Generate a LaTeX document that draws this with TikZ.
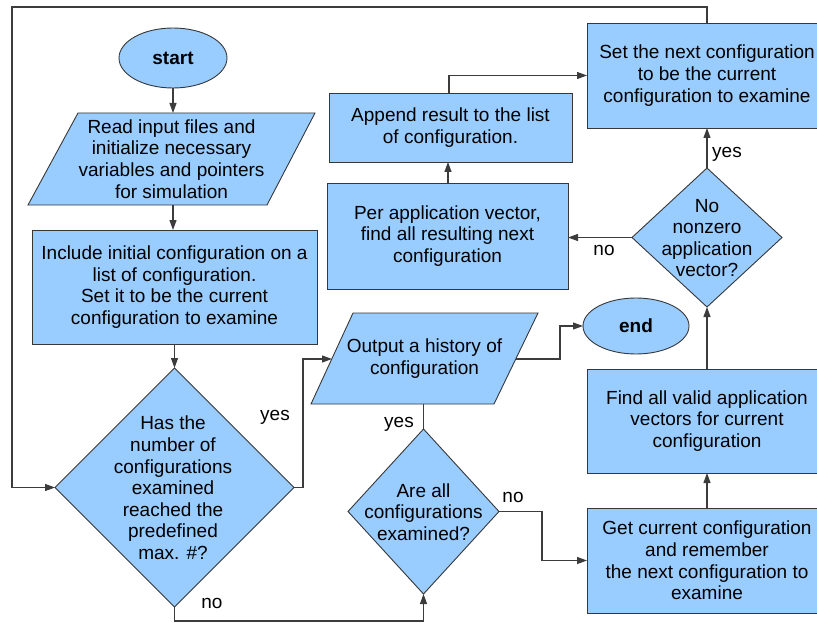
\documentclass[tikz,border=0pt]{standalone}
\usepackage{fontspec}
\setmainfont{Liberation Sans}
\usetikzlibrary{shapes.geometric,arrows.meta,calc,backgrounds}

\definecolor{boxfill}{RGB}{153,204,255}
\definecolor{boxline}{RGB}{55,55,55}
\definecolor{wire}{RGB}{60,60,60}

\tikzset{
  base/.style={font=\fontsize{19}{21.6}\selectfont, align=center, inner sep=0pt, outer sep=0pt},
  box/.style={base, rectangle, draw=boxline, fill=boxfill, line width=0.9pt},
  term/.style={base, ellipse, draw=boxline, fill=boxfill, line width=0.9pt, font=\fontsize{19}{21.6}\selectfont\bfseries},
  dec/.style={base, diamond, draw=boxline, fill=boxfill, line width=0.9pt},
  iotext/.style={base, rectangle},
  iofill/.style={draw=boxline, fill=boxfill, line width=0.9pt, line join=miter},
  txt/.style={base},
  lbl/.style={base},
  arrow/.style={draw=wire, line width=1.1pt, -{Triangle[length=10pt,width=7pt]}},
  wireline/.style={draw=wire, line width=1.1pt},
}

\begin{document}
\begin{tikzpicture}[x=1pt, y=-1pt]
\useasboundingbox (0,0) rectangle (817,623);

% left column
\node[term, minimum width=108pt, minimum height=60pt] (start) at (173,58) {start};
\node[iotext, minimum width=287pt, minimum height=92pt] (read) at (171.5,159)
  {Read input files and\\initialize necessary\\variables and pointers\\for simulation};
\node[box, minimum width=285pt, minimum height=114pt] (include) at (174.5,287)
  {Include initial configuration on a\\list of configuration.\\Set it to be the current\\configuration to examine};
\node[dec, minimum width=239pt, minimum height=239pt] (d1) at (174.5,487.5) {};
\node[txt] (d1t) at (173,488)
  {Has the\\number of\\configurations\\examined\\reached the\\predefined\\max. \#?};

% middle column
\node[iotext, minimum width=227pt, minimum height=91pt] (output) at (424.5,358.5)
  {Output a history of\\configuration};
\node[dec, minimum width=151pt, minimum height=165pt] (d2) at (423.5,511.5) {};
\node[txt] (d2t) at (423.5,512) {Are all\\configurations\\examined?};
\node[box, minimum width=243pt, minimum height=69pt] (append) at (450.5,127.5)
  {Append result to the list\\of configuration.};
\node[box, minimum width=241pt, minimum height=106pt] (perapp) at (447.5,236)
  {Per application vector,\\find all resulting next\\configuration};

% right column
\node[term, minimum width=106pt, minimum height=56pt] (end) at (636,326) {end};
\node[box, minimum width=240pt, minimum height=105pt] (setnext) at (707,75.5)
  {Set the next configuration\\to be the current\\configuration to examine};
\node[dec, minimum width=150pt, minimum height=139pt] (d3) at (707,237.5) {};
\node[txt] (d3t) at (707,238) {No\\nonzero\\application\\vector?};
\node[box, minimum width=240pt, minimum height=104pt] (findall) at (707,421)
  {Find all valid application\\vectors for current\\configuration};
\node[box, minimum width=240pt, minimum height=105pt] (getcur) at (707,560.5)
  {Get current configuration\\and remember\\the next configuration to\\examine};

% parallelogram outlines behind their text
\begin{scope}[on background layer]
  \path[iofill] (read.south west) -- ($(read.north west)+(50,0)$) -- (read.north east)
    -- ($(read.south east)+(-48,0)$) -- cycle;
  \path[iofill] (output.south west) -- ($(output.north west)+(42,0)$) -- (output.north east)
    -- ($(output.south east)+(-44,0)$) -- cycle;
\end{scope}
\coordinate (outIn) at ($(output.west)+(21,0.5)$);
\coordinate (outOut) at ($(output.east)+(-22,0.5)$);
\coordinate (loopL) at (12,7);

% connectors
\draw[arrow] (start.south) -- (start.south |- read.north);
\draw[arrow] (read.south -| start.south) -- (include.north -| start.south);
\draw[arrow] (include.south -| d1.north) -- (d1.north);
\draw[arrow] (d1.east) -- ++(9,0) |- (outIn);
\draw[arrow] (outOut) -- ++(44,0) |- (end.west);
\draw[wireline] (d2.north) -- (d2.north |- output.south);
\draw[arrow] (d1.south) -- ++(0,14) -| (d2.south);
\draw[arrow] (d2.east) -- ++(43,0) |- (getcur.west);
\draw[arrow] (getcur.north) -- (findall.south);
\draw[arrow] (findall.north) -- (d3.south);
\draw[arrow] (d3.north) -- (setnext.south);
\draw[arrow] (d3.west) -- (perapp.east |- d3.west);
\draw[arrow] (perapp.north -| 448,0) -- (append.south -| 448,0);
\draw[arrow] (append.north -| 449,0) |- (setnext.west);
\draw[arrow] (setnext.north) |- (loopL) |- (d1.west);

% branch labels
\node[lbl] (yes1) at (275,417) {yes};
\node[lbl] (no1) at (212,603) {no};
\node[lbl] (yes2) at (399,424) {yes};
\node[lbl] (no2) at (513,497) {no};
\node[lbl] (yes3) at (727,154) {yes};
\node[lbl] (no3) at (604,250) {no};
\end{tikzpicture}
\end{document}
